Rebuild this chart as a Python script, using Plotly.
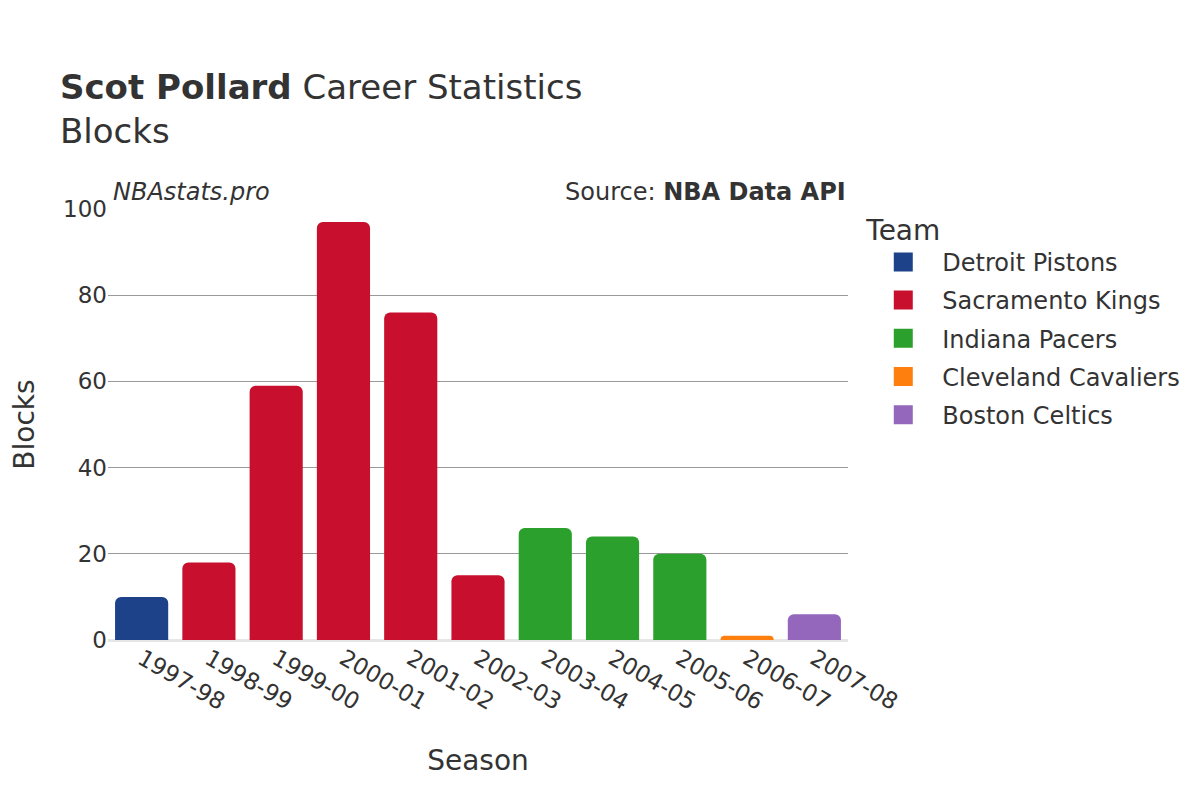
import plotly.graph_objects as go

seasons = ["1997-98", "1998-99", "1999-00", "2000-01", "2001-02", "2002-03",
           "2003-04", "2004-05", "2005-06", "2006-07", "2007-08"]
blocks = [10, 18, 59, 97, 76, 15, 26, 24, 20, 1, 6]
teams = ["Detroit Pistons", "Sacramento Kings", "Sacramento Kings", "Sacramento Kings",
         "Sacramento Kings", "Sacramento Kings", "Indiana Pacers", "Indiana Pacers",
         "Indiana Pacers", "Cleveland Cavaliers", "Boston Celtics"]
team_order = ["Detroit Pistons", "Sacramento Kings", "Indiana Pacers",
              "Cleveland Cavaliers", "Boston Celtics"]
team_colors = {"Detroit Pistons": "#1d428a", "Sacramento Kings": "#c8102e",
               "Indiana Pacers": "#2ca02c", "Cleveland Cavaliers": "#ff7f0e",
               "Boston Celtics": "#9467bd"}

FONT = "DejaVu Sans"
fig = go.Figure()
for t in team_order:
    xs = [s for s, tm in zip(seasons, teams) if tm == t]
    ys = [b for b, tm in zip(blocks, teams) if tm == t]
    fig.add_trace(go.Bar(x=xs, y=ys, name=t, marker_color=team_colors[t],
                         marker_line_width=0, legendgroup=t, showlegend=False))
    fig.add_trace(go.Scatter(x=[None], y=[None], mode="markers", name=t,
                             legendgroup=t, showlegend=True,
                             marker=dict(symbol="square", size=19, color=team_colors[t],
                                         line=dict(width=3, color=team_colors[t]))))

fig.update_layout(
    width=1200, height=800,
    barmode="relative", bargap=0.21, barcornerradius=6,
    font=dict(family=FONT, color="#333333", size=18),
    paper_bgcolor="white", plot_bgcolor="white",
    margin=dict(l=100, r=360, t=201, b=168),
    title=dict(text="<b>Scot Pollard</b> Career Statistics<br>Blocks",
               x=0.0433, xanchor="left", y=0.886, yanchor="top",
               font=dict(size=34, family=FONT, color="#333333")),
    legend=dict(title=dict(text="Team", font=dict(size=28)),
                font=dict(size=24), x=1.022, y=1.013, yanchor="top",
                itemsizing="trace", tracegroupgap=4, itemwidth=68),
    xaxis=dict(title=dict(text="Season", font=dict(size=28), standoff=36),
               categoryorder="array", categoryarray=seasons,
               tickangle=30, tickfont=dict(size=23), showgrid=False),
    yaxis=dict(title=dict(text="Blocks", font=dict(size=28), standoff=36),
               automargin=False,
               range=[0, 100], tickvals=[0, 20, 40, 60, 80, 100],
               tickfont=dict(size=23), gridcolor="#999999", gridwidth=1,
               zeroline=True, zerolinecolor="#e6e6e6", zerolinewidth=3),
    annotations=[
        dict(text="<i>NBAstats.pro</i>", xref="paper", yref="paper", x=0.0, y=1.0,
             xanchor="left", yanchor="bottom", showarrow=False, yshift=1, xshift=3,
             font=dict(size=24, family=FONT, color="#333333")),
        dict(text="Source: <b>NBA Data API</b>", xref="paper", yref="paper", x=1.0, y=1.0,
             xanchor="right", yanchor="bottom", showarrow=False, yshift=1,
             font=dict(size=24, family=FONT, color="#333333")),
    ],
)
fig.write_html("out.html")
